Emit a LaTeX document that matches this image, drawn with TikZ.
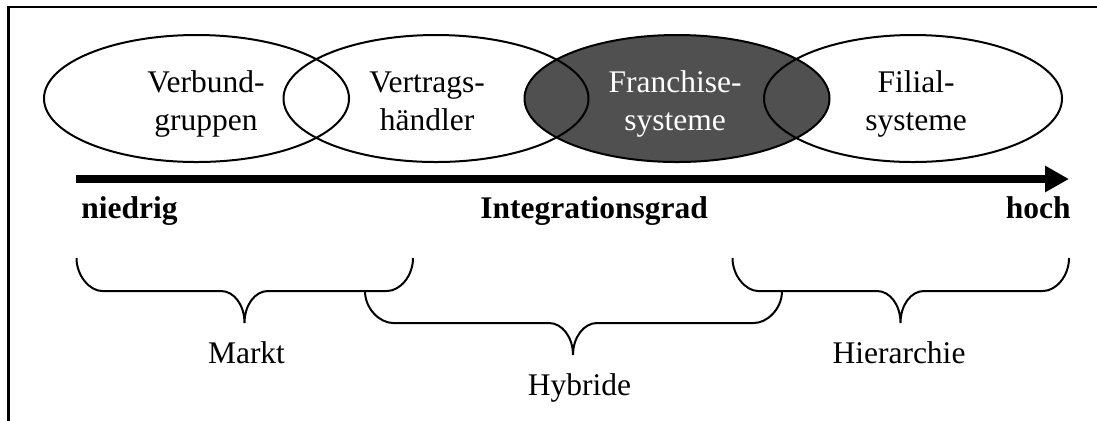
\documentclass[tikz,border=0pt]{standalone}
\usepackage{fontspec}
\setmainfont{Liberation Serif}
\usepackage{tikz}
\usetikzlibrary{positioning}
\usetikzlibrary{arrows.meta}
\usetikzlibrary{shapes.geometric}
\definecolor{darkgrey}{RGB}{80,80,80}

\tikzset{
  oval/.style={ellipse, draw=black, line width=1pt, minimum width=152.5pt, minimum height=63.5pt, inner sep=0pt},
  ovaltext/.style={align=center, anchor=base, inner sep=0pt, font=\fontsize{15.75}{19}\selectfont},
  axislabel/.style={anchor=base, inner sep=0pt, font=\fontsize{15.75}{19}\selectfont\bfseries},
  grouplabel/.style={anchor=base, inner sep=0pt, font=\fontsize{15.75}{19}\selectfont},
  klammer/.style={line width=1pt}
}

\begin{document}
\begin{tikzpicture}[x=0.5pt, y=-0.5pt]
    \useasboundingbox (0,0) rectangle (1097,420);
    % frame (only top and left edge inside the picture)
    \draw[line width=1.2pt] (1110,7) -- (8.5,7) -- (8.5,425);

    % ellipses: dark one first, outlines on top
    \node[oval, fill=darkgrey] (franchise) at (677,98.5) {};
    \node[oval] (verbund) at (196.5,98.5) {};
    \node[oval] (vertrag) at (436,98.5) {};
    \node[oval, minimum width=149pt] (filial) at (913,98.5) {};
    % base of a two-line node = baseline of its last line
    \node[ovaltext] (tverbund) at (206,130) {Verbund-\\gruppen};
    \node[ovaltext] (tvertrag) at (427,130) {Vertrags-\\händler};
    \node[ovaltext, text=white] (tfranchise) at (675,130) {Franchise-\\systeme};
    \node[ovaltext] (tfilial) at (916,130) {Filial-\\systeme};

    % axis
    \coordinate (links) at (76,179);
    \coordinate (rechts) at (1069,179);
    \draw[line width=4pt, -{Triangle[length=12pt, width=12.5pt]}] (links) -- (rechts);
    \node[axislabel, anchor=base west] (niedrig) at (81,218) {niedrig};
    \node[axislabel, anchor=base west] (grad) at (480,218) {Integrationsgrad};
    \node[axislabel, anchor=base east] (hoch) at (1071,218) {hoch};

    % braces
    \draw[klammer] (76.5,258) .. controls (76.5,276) and (90,291) .. (102,291) -- (221,291)
        .. controls (234,291) and (244.5,305) .. (244.5,323) .. controls (244.5,305) and (255,291) .. (268,291)
        -- (387,291) .. controls (400,291) and (413,276) .. (413,258);
    \draw[klammer] (365,291) .. controls (365,309) and (380,323) .. (393,323) -- (549,323)
        .. controls (562,323) and (573,337) .. (573,355) .. controls (573,337) and (584,323) .. (597,323)
        -- (754,323) .. controls (767,323) and (782,309) .. (782,291);
    \draw[klammer] (732.5,258) .. controls (732.5,276) and (746,291) .. (758,291) -- (877,291)
        .. controls (890,291) and (900.5,305) .. (900.5,323) .. controls (900.5,305) and (911,291) .. (924,291)
        -- (1043,291) .. controls (1056,291) and (1069,276) .. (1069,258);
    \node[grouplabel] (markt) at (246.5,363) {Markt};
    \node[grouplabel] (hybride) at (579.5,395) {Hybride};
    \node[grouplabel] (hierarchie) at (899,363) {Hierarchie};
\end{tikzpicture}
\end{document}
